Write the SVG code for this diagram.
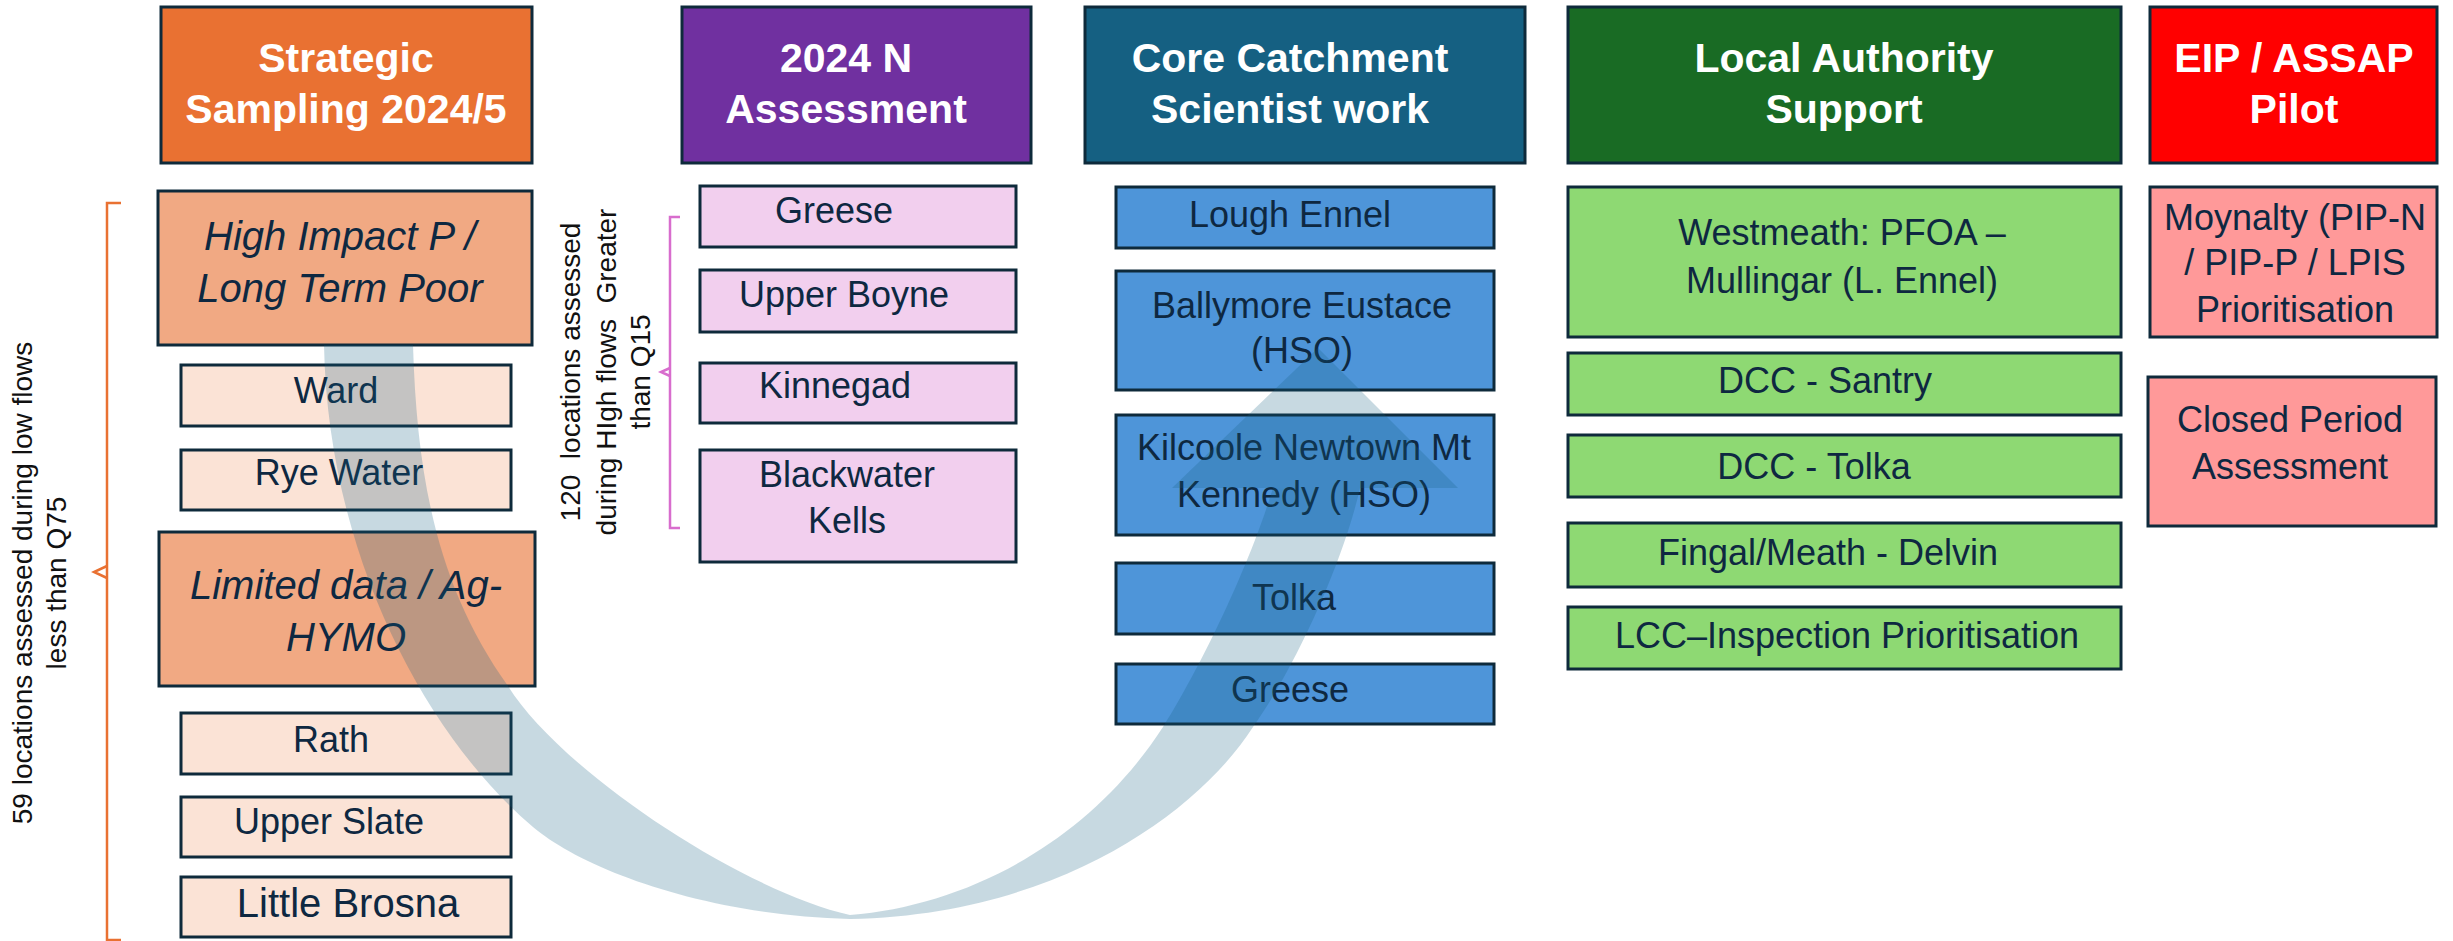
<svg xmlns="http://www.w3.org/2000/svg" width="2453" height="941" viewBox="0 0 2453 941">
<style>
text{font-family:"Liberation Sans",Arial,sans-serif;text-anchor:middle}
.box{stroke:#0E2A3B;stroke-width:3}
.hd{fill:#ffffff;font-weight:bold;font-size:41px}
.it{fill:#0E2841;font-size:36px}
.itl{fill:#0E2841;font-size:40px;font-style:italic}
.rot{fill:#111111;font-size:28px}
.or{fill:#E97132}.pu{fill:#7030A0}.te{fill:#156082}.gr{fill:#196B24}.rd{fill:#FF0000}
.orl{fill:#F1A983}.orx{fill:#FBE3D6}.pk{fill:#F2CFEE}.bl{fill:#4E95D9}.lg{fill:#8ED973}.rl{fill:#FF9999}
</style>
<rect width="2453" height="941" fill="#ffffff"/>

<!-- Headers -->
<g id="hdr-strategic"><rect class="box or" x="161" y="7" width="371" height="156"/><text class="hd" x="346" y="72">Strategic</text><text class="hd" x="346" y="123">Sampling 2024/5</text></g>
<g id="hdr-2024n"><rect class="box pu" x="682" y="7" width="349" height="156"/><text class="hd" x="846" y="72">2024 N</text><text class="hd" x="846" y="123">Assessment</text></g>
<g id="hdr-core"><rect class="box te" x="1085" y="7" width="440" height="156"/><text class="hd" x="1290" y="72">Core Catchment</text><text class="hd" x="1290" y="123">Scientist work</text></g>
<g id="hdr-la"><rect class="box gr" x="1568" y="7" width="553" height="156"/><text class="hd" x="1844" y="72">Local Authority</text><text class="hd" x="1844" y="123">Support</text></g>
<g id="hdr-eip"><rect class="box rd" x="2150" y="7" width="287" height="156"/><text class="hd" x="2294" y="72">EIP / ASSAP</text><text class="hd" x="2294" y="123">Pilot</text></g>

<!-- Strategic sampling column -->
<g id="high-impact"><rect class="box orl" x="158" y="191" width="374" height="154"/><text class="itl" x="340" y="250">High Impact P /</text><text class="itl" x="340" y="302">Long Term Poor</text></g>
<g id="ward"><rect class="box orx" x="181" y="365" width="330" height="61"/><text class="it" x="336" y="403">Ward</text></g>
<g id="rye-water"><rect class="box orx" x="181" y="450" width="330" height="60"/><text class="it" x="339" y="485">Rye Water</text></g>
<g id="limited-data"><rect class="box orl" x="159" y="532" width="376" height="154"/><text class="itl" x="346" y="599">Limited data / Ag-</text><text class="itl" x="346" y="651">HYMO</text></g>
<g id="rath"><rect class="box orx" x="181" y="713" width="330" height="61"/><text class="it" x="331" y="752">Rath</text></g>
<g id="upper-slate"><rect class="box orx" x="181" y="797" width="330" height="60"/><text class="it" x="329" y="834">Upper Slate</text></g>
<g id="little-brosna"><rect class="box orx" x="181" y="877" width="330" height="60"/><text class="it" x="348" y="917" style="font-size:40px">Little Brosna</text></g>

<!-- 2024 N column -->
<g id="n-greese"><rect class="box pk" x="700" y="186" width="316" height="61"/><text class="it" x="834" y="223">Greese</text></g>
<g id="n-upper-boyne"><rect class="box pk" x="700" y="270" width="316" height="62"/><text class="it" x="844" y="307">Upper Boyne</text></g>
<g id="n-kinnegad"><rect class="box pk" x="700" y="363" width="316" height="60"/><text class="it" x="835" y="398">Kinnegad</text></g>
<g id="n-blackwater"><rect class="box pk" x="700" y="450" width="316" height="112"/><text class="it" x="847" y="487">Blackwater</text><text class="it" x="847" y="533">Kells</text></g>

<!-- Core catchment column -->
<g id="c-lough-ennel"><rect class="box bl" x="1116" y="187" width="378" height="61"/><text class="it" x="1290" y="227">Lough Ennel</text></g>
<g id="c-ballymore"><rect class="box bl" x="1116" y="271" width="378" height="119"/><text class="it" x="1302" y="318">Ballymore Eustace</text><text class="it" x="1302" y="363">(HSO)</text></g>
<g id="c-kilcoole"><rect class="box bl" x="1116" y="415" width="378" height="120"/><text class="it" x="1304" y="460">Kilcoole Newtown Mt</text><text class="it" x="1304" y="507">Kennedy (HSO)</text></g>
<g id="c-tolka"><rect class="box bl" x="1116" y="563" width="378" height="71"/><text class="it" x="1294" y="610">Tolka</text></g>
<g id="c-greese"><rect class="box bl" x="1116" y="664" width="378" height="60"/><text class="it" x="1290" y="702">Greese</text></g>

<!-- Local authority column -->
<g id="la-westmeath"><rect class="box lg" x="1568" y="187" width="553" height="150"/><text class="it" x="1842" y="245">Westmeath: PFOA –</text><text class="it" x="1842" y="293">Mullingar (L. Ennel)</text></g>
<g id="la-santry"><rect class="box lg" x="1568" y="353" width="553" height="62"/><text class="it" x="1825" y="393">DCC - Santry</text></g>
<g id="la-tolka"><rect class="box lg" x="1568" y="435" width="553" height="62"/><text class="it" x="1814" y="479">DCC - Tolka</text></g>
<g id="la-delvin"><rect class="box lg" x="1568" y="523" width="553" height="64"/><text class="it" x="1828" y="565">Fingal/Meath - Delvin</text></g>
<g id="la-lcc"><rect class="box lg" x="1568" y="607" width="553" height="62"/><text class="it" x="1847" y="648">LCC–Inspection Prioritisation</text></g>

<!-- EIP column -->
<g id="eip-moynalty"><rect class="box rl" x="2150" y="187" width="287" height="150"/><text class="it" x="2295" y="230">Moynalty (PIP-N</text><text class="it" x="2295" y="275">/ PIP-P / LPIS</text><text class="it" x="2295" y="322">Prioritisation</text></g>
<g id="eip-closed"><rect class="box rl" x="2148" y="377" width="288" height="149"/><text class="it" x="2290" y="432">Closed Period</text><text class="it" x="2290" y="479">Assessment</text></g>

<!-- Brackets and rotated labels -->
<g id="bracket-low" fill="none" stroke="#E97132" stroke-width="2.5">
<path d="M121,203 L107,203 L107,940 L121,940"/>
<path d="M107,566 L94,572 L107,578"/>
</g>
<g id="label-low">
<text class="rot" transform="translate(32,583) rotate(-90)">59 locations assessed during low flows</text>
<text class="rot" transform="translate(66,583) rotate(-90)">less than Q75</text>
</g>
<g id="bracket-high" fill="none" stroke="#D86DCD" stroke-width="2.5">
<path d="M680,217 L670,217 L670,528 L680,528"/>
<path d="M670,368 L661,372 L670,376"/>
</g>
<g id="label-high">
<text class="rot" xml:space="preserve" transform="translate(580,372) rotate(-90)">120  locations assessed</text>
<text class="rot" xml:space="preserve" transform="translate(616,372) rotate(-90)">during HIgh flows  Greater</text>
<text class="rot" transform="translate(650,372) rotate(-90)">than Q15</text>
</g>

<!-- Connectors -->
<g id="connectors">
<path d="M324,345 L413,345 C417,480 438,588 508,686 C560,770 740,890 850,915 C970,905 1090,840 1163,727 C1190,685 1245,580 1273,488 L1172,488 L1318,348 L1458,488 L1360,488 C1345,555 1300,660 1253,727 C1200,810 1060,915 850,919 C700,915 580,867 533,827 C430,740 328,560 324,345 Z" fill="#156082" fill-opacity="0.24"/>
</g>
</svg>
